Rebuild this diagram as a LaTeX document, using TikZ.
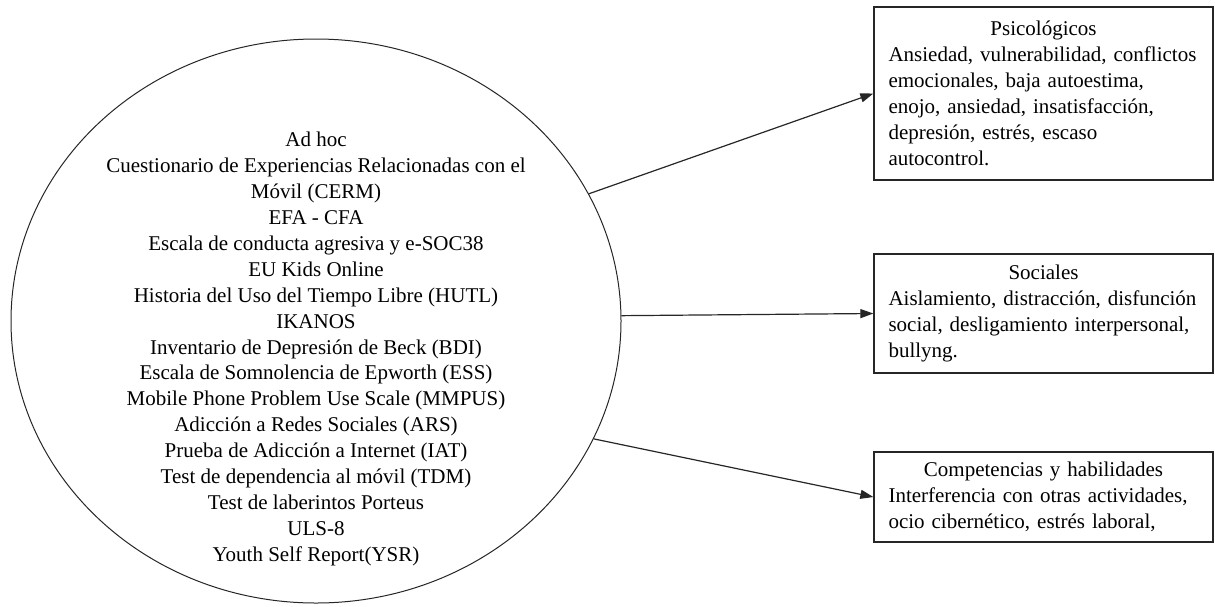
\documentclass[tikz,border=0pt]{standalone}
\usepackage{fontspec}
\setmainfont{Liberation Serif}
\usetikzlibrary{shapes.geometric,arrows.meta}
\newlength\boxtw
\setlength\boxtw{310pt}
\tikzset{
  txt/.style={font=\fontsize{21}{25.9}\selectfont},
  circ/.style={draw=black!85, line width=1pt, ellipse, minimum width=610pt, minimum height=564pt, inner sep=0pt},
  outbox/.style={draw=black!85, line width=1.3pt, rectangle, minimum width=339pt, text width=\boxtw, inner xsep=14.5pt, align=left, txt},
  conn/.style={draw=black!85, line width=1.2pt, -{Triangle[length=13pt,width=9pt]}}
}
\begin{document}
\begin{tikzpicture}[x=1pt,y=-1pt]
\useasboundingbox (0,0) rectangle (1215,606);
\node[circ] (e) at (316,321) {};
\node[txt, align=center] (etext) at (316,349) {Ad hoc\\
Cuestionario de Experiencias Relacionadas con el\\
Móvil (CERM)\\
EFA - CFA\\
Escala de conducta agresiva y e-SOC38\\
EU Kids Online\\
Historia del Uso del Tiempo Libre (HUTL)\\
IKANOS\\
Inventario de Depresión de Beck (BDI)\\
Escala de Somnolencia de Epworth (ESS)\\
Mobile Phone Problem Use Scale (MMPUS)\\
Adicción a Redes Sociales (ARS)\\
Prueba de Adicción a Internet (IAT)\\
Test de dependencia al móvil (TDM)\\
Test de laberintos Porteus\\
ULS-8\\
Youth Self Report(YSR)};

\node[outbox, minimum height=173pt] (b1) at (1043.5,93.5) {\makebox[\boxtw][c]{Psicológicos}\\
\makebox[\boxtw][s]{Ansiedad, vulnerabilidad, conflictos}\\
emocionales, baja autoestima,\\
enojo, ansiedad, insatisfacción,\\
depresión, estrés, escaso\\
autocontrol.};

\node[outbox, minimum height=119pt] (b2) at (1043.5,313.5) {\makebox[\boxtw][c]{Sociales}\\
\makebox[\boxtw][s]{Aislamiento, distracción, disfunción}\\
\makebox[\boxtw][s]{social, desligamiento interpersonal,}\\
bullyng.};

\node[outbox, minimum height=90pt] (b3) at (1043.5,497) {\makebox[\boxtw][c]{Competencias y habilidades}\\
\makebox[\boxtw][s]{Interferencia con otras actividades,}\\
ocio cibernético, estrés laboral,};

\draw[conn] (e.25) -- (b1.west);
\draw[conn] (e.1) -- (b2.west);
\draw[conn] (e.-23.6) -- (b3.west);
\end{tikzpicture}
\end{document}
